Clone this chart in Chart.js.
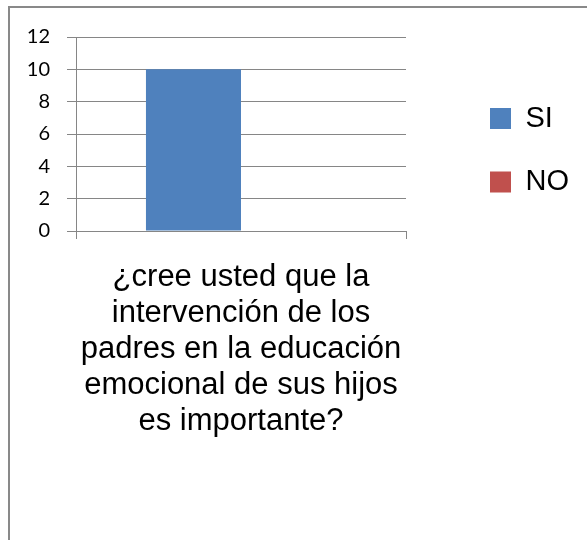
<!DOCTYPE html>
<html>
<head>
<meta charset="utf-8">
<script src="https://cdn.jsdelivr.net/npm/chart.js@4.4.1/dist/chart.umd.min.js"></script>
<style>
  html, body { margin: 0; padding: 0; background: #ffffff; }
  #wrap { position: relative; width: 587px; height: 540px; overflow: hidden; }
  #frame { position: absolute; left: 8px; top: 6px; width: 700px; height: 700px;
           border-left: 2px solid #898989; border-top: 2px solid #898989; }
  #c { position: absolute; left: 0; top: 0; }
</style>
</head>
<body>
<div id="wrap">
  <div id="frame"></div>
  <canvas id="c" width="587" height="540"></canvas>
</div>
<script>
const categories = [["¿cree usted que la", "intervención de los", "padres en la educación", "emocional de sus hijos", "es importante?"]];
const seriesNames = ["SI", "NO"];
const siValues = [10];
const noValues = [0];
const seriesColors = ["#4F81BD", "#C0504D"];
const yMin = 0, yMax = 12, yStep = 2;

new Chart(document.getElementById('c'), {
  type: 'bar',
  data: {
    labels: categories,
    datasets: [
      { label: seriesNames[0], data: siValues, backgroundColor: seriesColors[0], borderWidth: 0 },
      { label: seriesNames[1], data: noValues, backgroundColor: seriesColors[1], borderWidth: 0 }
    ]
  },
  options: {
    responsive: false,
    animation: false,
    devicePixelRatio: 1,
    datasets: { bar: { categoryPercentage: 0.576, barPercentage: 1 } },
    layout: { padding: { left: 27, top: 37, right: 8, bottom: 0 } },
    plugins: {
      tooltip: { enabled: false },
      legend: {
        position: 'right',
        align: 'end',
        fullSize: false,
        maxWidth: 300,
        labels: {
          boxWidth: 21, boxHeight: 21, padding: 34.5, color: '#000000',
          font: { family: 'Liberation Sans', size: 29 }
        }
      }
    },
    scales: {
      x: {
        grid: { display: true, drawOnChartArea: false, drawTicks: true, tickLength: 8, color: '#868686', offset: true },
        border: { display: true, color: '#868686', width: 1 },
        ticks: { color: '#000000', font: { family: 'Liberation Sans', size: 31, lineHeight: 35.8 / 31 }, padding: 21, maxRotation: 0, autoSkip: false },
        afterFit: s => { s.height = 309; }
      },
      y: {
        min: yMin, max: yMax,
        ticks: { stepSize: yStep, color: '#000000', font: { family: 'Lato', size: 20 }, padding: 17 },
        grid: { color: '#868686', tickLength: 9 },
        border: { display: true, color: '#868686', width: 1 },
        afterFit: s => { s.width = 49; }
      },
      yR: {
        type: 'linear', position: 'right', display: true,
        grid: { display: false }, ticks: { display: false }, border: { display: false },
        afterFit: s => { s.width = 49.5; }
      }
    }
  }
});
</script>
</body>
</html>
